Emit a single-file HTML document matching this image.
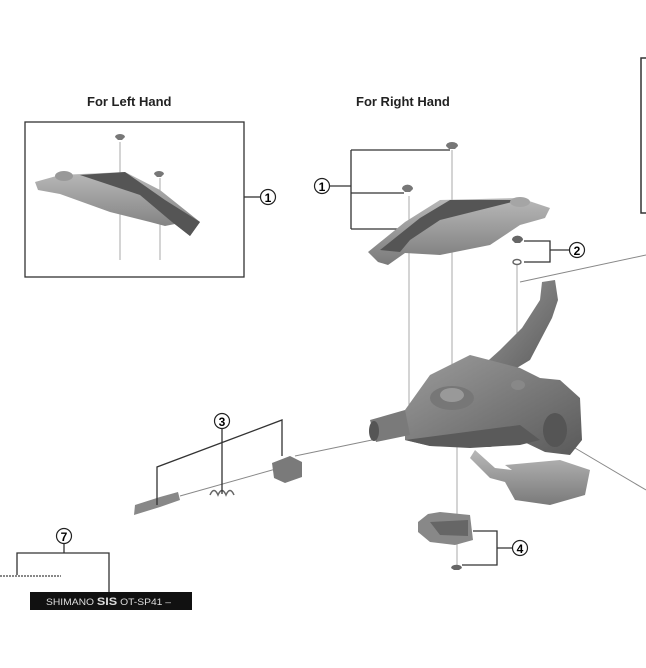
<!DOCTYPE html>
<html><head><meta charset="utf-8"><style>
html,body{margin:0;padding:0;background:#fff;}
svg{display:block;}
text{font-family:"Liberation Sans",Arial,sans-serif;}
</style></head><body>
<svg width="646" height="668" viewBox="0 0 646 668" xmlns="http://www.w3.org/2000/svg">
<defs>
<linearGradient id="g1" x1="0" y1="0" x2="0" y2="1"><stop offset="0" stop-color="#b8b8b8"/><stop offset="1" stop-color="#7a7a7a"/></linearGradient>
<linearGradient id="g2" x1="0" y1="0" x2="1" y2="1"><stop offset="0" stop-color="#9c9c9c"/><stop offset="1" stop-color="#5a5a5a"/></linearGradient>
</defs>
<text x="87" y="106" font-size="13" font-weight="bold" fill="#222">For Left Hand</text>
<text x="356" y="106" font-size="13" font-weight="bold" fill="#222">For Right Hand</text>

<rect x="25" y="122" width="219" height="155" fill="none" stroke="#333" stroke-width="1.3"/>
<line x1="244" y1="197" x2="260" y2="197" stroke="#333" stroke-width="1.3"/>
<circle cx="268" cy="197" r="7.5" fill="#fff" stroke="#222" stroke-width="1.2"/>
<text x="268" y="202" font-size="12" font-weight="bold" text-anchor="middle">1</text>
<line x1="120" y1="142" x2="120" y2="260" stroke="#aaa"/>
<line x1="160" y1="178" x2="160" y2="260" stroke="#aaa"/>
<path d="M35,182 L60,175 L125,172 L160,190 L200,222 L190,236 L175,224 L165,226 L150,222 L110,212 L60,194 L38,190 Z" fill="url(#g1)"/>
<path d="M80,175 L125,172 L165,200 L200,222 L190,236 L172,222 L140,195 Z" fill="#555"/>
<ellipse cx="64" cy="176" rx="9" ry="5" fill="#999"/>
<path d="M115,137 a5,3 0 0 1 10,0 l-3,3 h-4 Z" fill="#777"/>
<path d="M154,174 a5,3 0 0 1 10,0 l-3,3 h-4 Z" fill="#777"/>

<path d="M646,58 H641 V213 H646" fill="none" stroke="#333" stroke-width="1.5"/>

<circle cx="322" cy="186" r="7.5" fill="#fff" stroke="#222" stroke-width="1.2"/>
<text x="322" y="191" font-size="12" font-weight="bold" text-anchor="middle">1</text>
<path d="M330,186 H351 M351,150 V229 M351,150 H450 M351,193 H404 M351,229 H398" fill="none" stroke="#333" stroke-width="1.3"/>
<line x1="409" y1="196" x2="409" y2="432" stroke="#aaa"/>
<line x1="452" y1="150" x2="452" y2="378" stroke="#aaa"/>
<line x1="457" y1="445" x2="457" y2="570" stroke="#aaa"/>
<line x1="517" y1="265" x2="517" y2="382" stroke="#aaa"/>
<line x1="520" y1="282" x2="646" y2="255" stroke="#888"/>
<line x1="295" y1="456" x2="372" y2="440" stroke="#888"/>
<line x1="575" y1="448" x2="646" y2="490" stroke="#888"/>
<path d="M446,146 a6,4 0 0 1 12,0 l-3,3 h-6 Z" fill="#777"/>
<path d="M402,189 a5,4 0 0 1 11,0 l-3,3 h-5 Z" fill="#777"/>
<path d="M368,252 L405,222 L440,200 L520,198 L550,208 L545,218 L520,225 L490,245 L440,255 L405,253 L388,265 L378,262 Z" fill="url(#g1)"/>
<path d="M380,250 L420,218 L450,200 L520,200 L500,205 L440,220 L410,240 L400,252 Z" fill="#555"/>
<ellipse cx="520" cy="202" rx="10" ry="5" fill="#a5a5a5"/>
<path d="M512,240 a5,4 0 0 1 11,0 l-3,3 h-5 Z" fill="#666"/>
<ellipse cx="517" cy="262" rx="4" ry="2.5" fill="none" stroke="#666" stroke-width="1.5"/>
<path d="M524,241 H550 V262 H524 M550,250 H569" fill="none" stroke="#333" stroke-width="1.3"/>
<circle cx="577" cy="250" r="7.5" fill="#fff" stroke="#222" stroke-width="1.2"/>
<text x="577" y="255" font-size="12" font-weight="bold" text-anchor="middle">2</text>

<!-- shifter -->
<path d="M542,282 L555,280 L558,300 L552,318 L530,360 L505,375 L480,368 L500,350 L522,328 L540,300 Z" fill="url(#g2)"/>
<path d="M405,410 L430,375 L470,355 L520,368 L540,378 L560,380 L580,398 L582,440 L570,455 L545,452 L520,440 L490,447 L470,447 L430,446 L405,440 Z" fill="url(#g2)"/>
<path d="M370,420 L405,410 L410,435 L376,442 Z" fill="#7a7a7a"/>
<ellipse cx="374" cy="431" rx="5" ry="10" fill="#555"/>
<path d="M405,440 L520,425 L540,440 L520,445 L470,448 L430,446 Z" fill="#5a5a5a"/>
<ellipse cx="452" cy="398" rx="22" ry="12" fill="#777"/>
<ellipse cx="452" cy="395" rx="12" ry="7" fill="#999"/>
<ellipse cx="518" cy="385" rx="7" ry="5" fill="#888"/>
<path d="M475,450 L495,468 L512,470 L505,465 L560,460 L590,470 L585,495 L550,505 L515,500 L505,482 L490,478 L470,458 Z" fill="url(#g1)"/>
<ellipse cx="555" cy="430" rx="12" ry="17" fill="#555"/>

<!-- callout 3 parts -->
<path d="M134,515 L160,507 L180,500 L178,492 L160,497 L135,505 Z" fill="#888"/>
<path d="M210,495 q4,-9 8,0 q4,-9 8,0 q4,-9 8,0" fill="none" stroke="#666" stroke-width="1.5"/>
<line x1="180" y1="496" x2="290" y2="465" stroke="#888"/>
<path d="M272,463 L290,456 L302,462 L302,477 L285,483 L274,478 Z" fill="#7a7a7a"/>
<path d="M157,505 V467 L282,420 V456 M222,429 V494" fill="none" stroke="#333" stroke-width="1.3"/>
<circle cx="222" cy="421" r="7.5" fill="#fff" stroke="#222" stroke-width="1.2"/>
<text x="222" y="426" font-size="12" font-weight="bold" text-anchor="middle">3</text>

<!-- callout 4 -->
<path d="M418,522 L428,514 L440,512 L470,515 L473,540 L455,545 L430,542 L418,532 Z" fill="#888"/>
<path d="M430,522 L468,520 L468,536 L440,535 Z" fill="#666"/>
<path d="M451,568 a5,3 0 0 1 11,0 l-3,2 h-5 Z" fill="#666"/>
<path d="M473,531 H497 V565 H462 M497,548 H512" fill="none" stroke="#333" stroke-width="1.3"/>
<circle cx="520" cy="548" r="7.5" fill="#fff" stroke="#222" stroke-width="1.2"/>
<text x="520" y="553" font-size="12" font-weight="bold" text-anchor="middle">4</text>

<!-- callout 7 -->
<circle cx="64" cy="536" r="7.5" fill="#fff" stroke="#222" stroke-width="1.2"/>
<text x="64" y="541" font-size="12" font-weight="bold" text-anchor="middle">7</text>
<path d="M64,544 V553 M17,575 V553 H109 V592" fill="none" stroke="#333" stroke-width="1.3"/>
<line x1="0" y1="576" x2="61" y2="576" stroke="#888" stroke-width="2" stroke-dasharray="2,1"/>
<rect x="30" y="592" width="162" height="18" fill="#111"/>
<text x="46" y="605" font-size="9" fill="#ddd" textLength="125" lengthAdjust="spacingAndGlyphs">SHIMANO <tspan font-weight="bold" font-size="11">SIS</tspan>  OT-SP41 –</text>
</svg>
</body></html>
